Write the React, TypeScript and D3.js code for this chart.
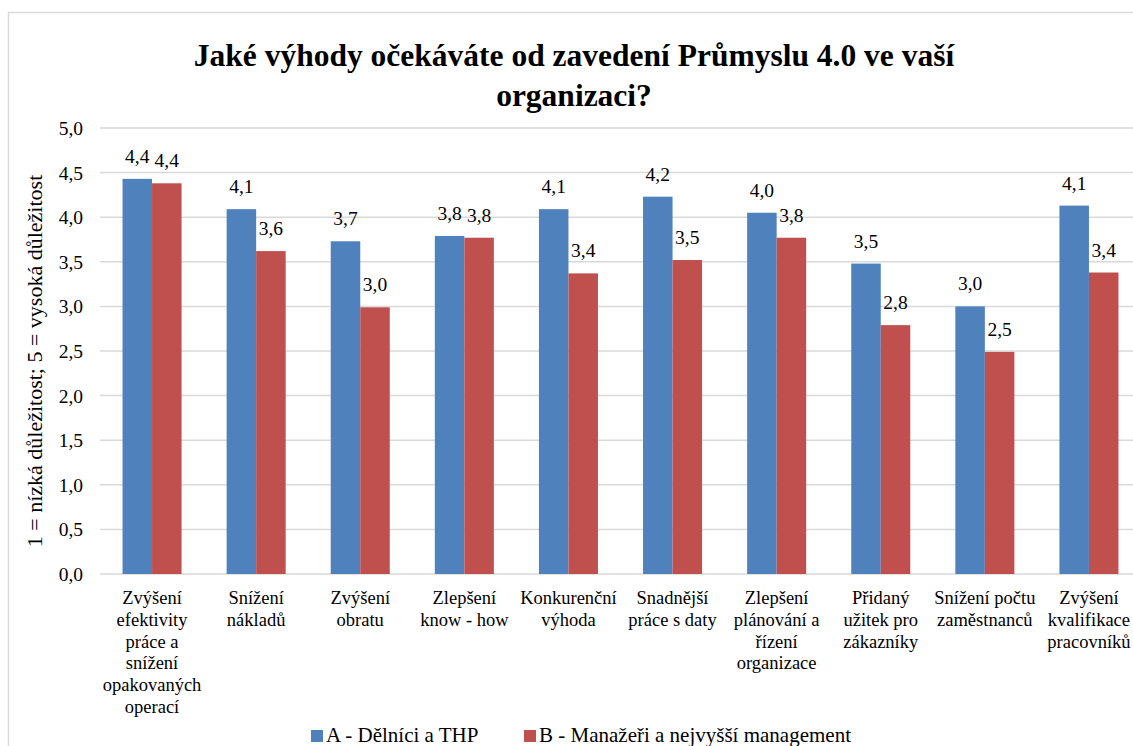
import React from "react";
import * as d3 from "d3";

const categories: string[][] = [
  ["Zvýšení", "efektivity", "práce a", "snížení", "opakovaných", "operací"],
  ["Snížení", "nákladů"],
  ["Zvýšení", "obratu"],
  ["Zlepšení", "know - how"],
  ["Konkurenční", "výhoda"],
  ["Snadnější", "práce s daty"],
  ["Zlepšení", "plánování a", "řízení", "organizace"],
  ["Přidaný", "užitek pro", "zákazníky"],
  ["Snížení počtu", "zaměstnanců"],
  ["Zvýšení", "kvalifikace", "pracovníků"],
];
const seriesA: number[] = [4.43, 4.09, 3.73, 3.79, 4.09, 4.23, 4.05, 3.48, 3.0, 4.13];
const seriesB: number[] = [4.38, 3.62, 2.99, 3.77, 3.37, 3.52, 3.77, 2.79, 2.49, 3.38];
const seriesNames: string[] = ["A - Dělníci a THP", "B - Manažeři a nejvyšší management"];
const yTicks: number[] = [0, 0.5, 1, 1.5, 2, 2.5, 3, 3.5, 4, 4.5, 5];
const titleLines: string[] = ["Jaké výhody očekáváte od zavedení Průmyslu 4.0 ve vaší", "organizaci?"];
const yTitle = "1 = nízká důležitost; 5 = vysoká důležitost";

const colors = ["#4F81BD", "#C0504D"];
const FONT = "Liberation Serif, Tinos, Times New Roman, DejaVu Serif, serif";

export default function App() {
  const W = 1133, H = 746;
  const x = d3.scaleBand<number>().domain(d3.range(categories.length)).range([100, 1141]).paddingInner(0.433).paddingOuter(0.2165);
  const y = d3.scaleLinear().domain([0, 5]).range([574, 128]);
  const bw = x.bandwidth() / 2;
  const fmt = (v: number) => d3.format(".1f")(v).replace(".", ",");
  const series = [seriesA, seriesB];

  return (
    <svg width={W} height={H} style={{ position: "absolute", left: 0, top: 0, background: "#fff", fontFamily: FONT }}>
      <rect x={8.5} y={12.5} width={1300} height={900} fill="#fff" stroke="#d9d9d9" strokeWidth={1.5} />
      {titleLines.map((t, i) => (
        <text key={i} x={574} y={66 + i * 40} textAnchor="middle" fontSize={31.5} fontWeight="bold" fill="#000">{t}</text>
      ))}
      {yTicks.map((t) => (
        <g key={t}>
          <line x1={100} x2={1141} y1={y(t)} y2={y(t)} stroke="#d9d9d9" strokeWidth={1.5} />
          <text x={83} y={y(t) + 7} textAnchor="end" fontSize={19.5} fill="#000">{fmt(t)}</text>
        </g>
      ))}
      <text transform={`translate(42, 361) rotate(-90)`} textAnchor="middle" fontSize={22} fill="#000">{yTitle}</text>
      {series.map((s, si) =>
        s.map((v, i) => {
          const bx = (x(i) as number) + si * bw;
          return (
            <g key={`${si}-${i}`}>
              <rect x={bx} y={y(v)} width={bw} height={y(0) - y(v)} fill={colors[si]} />
              <text x={bx + bw / 2} y={y(v) - 16} textAnchor="middle" fontSize={19.5} fill="#000">{fmt(v)}</text>
            </g>
          );
        })
      )}
      {categories.map((lines, i) => (
        <text key={i} textAnchor="middle" fontSize={18.5} fill="#000">
          {lines.map((l, j) => (
            <tspan key={j} x={(x(i) as number) + x.bandwidth() / 2} y={604 + j * 21.8}>{l}</tspan>
          ))}
        </text>
      ))}
      {seriesNames.map((n, i) => {
        const lx = i === 0 ? 311 : 524;
        return (
          <g key={n}>
            <rect x={lx} y={730} width={12} height={12} fill={colors[i]} />
            <text x={lx + 15} y={742} fontSize={21} fill="#000">{n}</text>
          </g>
        );
      })}
    </svg>
  );
}
